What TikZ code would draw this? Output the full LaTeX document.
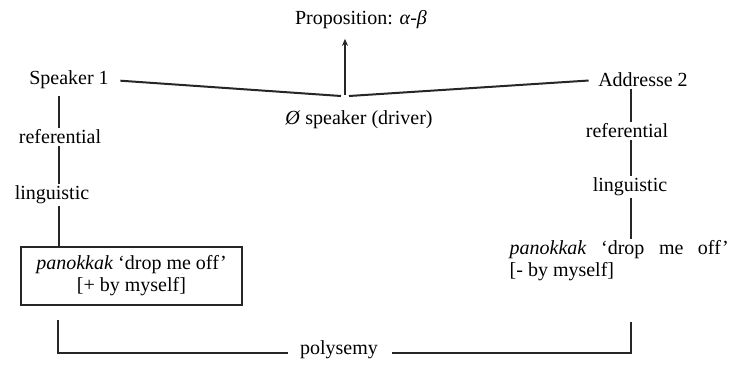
\documentclass[tikz,border=0pt]{standalone}
\usepackage{fontspec}
\setmainfont{Liberation Serif}
\usetikzlibrary{arrows.meta}
\begin{document}
\begin{tikzpicture}[x=1pt,y=-1pt,
  lbl/.style={inner sep=1.5pt,font=\fontsize{20}{22}\selectfont},
  conn/.style={line width=2pt,draw=black!85},
  framed/.style={lbl,draw=black!85,line width=2.2pt,align=center,
    minimum width=221pt,minimum height=58pt}]
\useasboundingbox (0,0) rectangle (731,365);

% top row
\node[lbl] (prop) at (361,20) {Proposition: \textit{α}-\textit{β}};
\node[lbl] (spk) at (69,80) {Speaker 1};
\node[lbl] (addr) at (643,80) {Addresse 2};
\node[lbl] (drv) at (359,120) {\textit{Ø} speaker (driver)};
\coordinate (jl) at (341,96);
\coordinate (jr) at (349,96);
\coordinate (j) at (345,95);

\draw[conn,shorten <=10pt] (spk.east) -- (jl);
\draw[conn,shorten >=8pt] (jr) -- (addr.west);
\draw[conn,line width=1.8pt,shorten >=8pt,
  -{Stealth[length=7pt,width=6pt]}] (j) -- (j |- prop.south);

% speaker column
\node[lbl] (refL) at (60,137) {referential};
\node[lbl] (lingL) at (52,195) {linguistic};
\node[framed] (boxL) at (131.5,276)
  {\textit{panokkak} ‘drop me off’\\ {[}+ by myself{]}};
\coordinate (colL) at (59,0);
\draw[conn,shorten <=5pt] (colL |- spk.south) -- (colL |- refL.north);
\draw[conn] (colL |- refL.south) -- (colL |- lingL.north);
\draw[conn] (colL |- lingL.south) -- (colL |- boxL.north);

% addressee column
\node[lbl] (refR) at (627,131) {referential};
\node[lbl] (lingR) at (630,187) {linguistic};
\node[lbl,anchor=north west,align=left] (txtR) at (508,239)
  {\makebox[219pt][s]{\textit{panokkak} ‘drop me off’}\\ {[}- by myself{]}};
\coordinate (colR) at (631,0);
\draw[conn] (colR |- addr.south) -- (colR |- refR.north);
\draw[conn] (colR |- refR.south) -- (colR |- lingR.north);
\draw[conn] (colR |- lingR.south) -- (colR |- txtR.north);

% polysemy bracket
\node[lbl] (poly) at (339,350) {polysemy};
\coordinate (bl) at (58,353);
\coordinate (br) at (631,353);
\coordinate (blt) at (58,320);
\coordinate (brt) at (631,322);
\draw[conn] (blt) -- (bl) -- ([xshift=-10pt]poly.west |- bl);
\draw[conn] ([xshift=12pt]poly.east |- br) -- (br) -- (brt);
\end{tikzpicture}
\end{document}
